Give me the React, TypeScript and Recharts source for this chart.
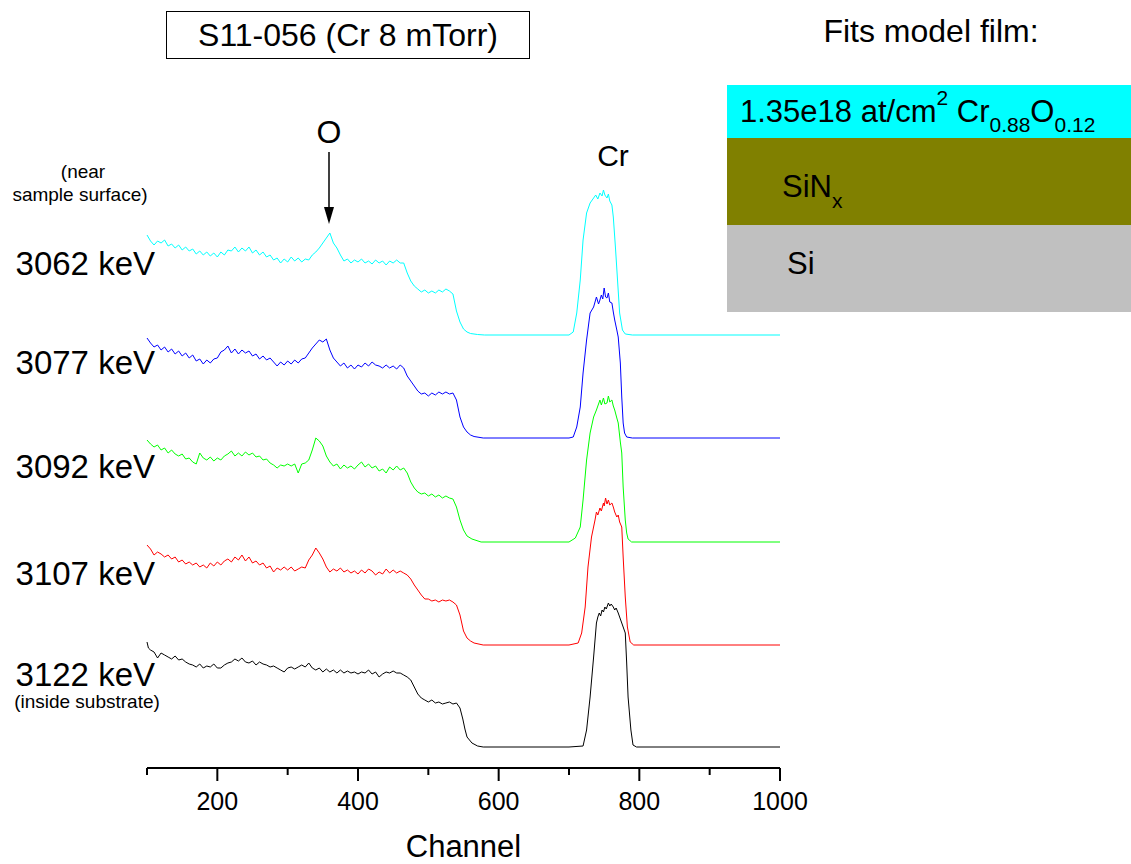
import { LineChart, Line, XAxis, YAxis } from "recharts";

// RBS spectra, counts (arbitrary units), each trace shifted by its offset
const CHANNEL_TICKS = [100, 200, 300, 400, 500, 600, 700, 800, 900, 1000];
const LABELED_TICKS = [200, 400, 600, 800, 1000];

const ENERGIES = ["3062 keV", "3077 keV", "3092 keV", "3107 keV", "3122 keV"];
const COLORS = ["#00ffff", "#0000ff", "#00ff00", "#ff0000", "#000000"];
const OFFSETS = [433, 330, 226, 123, 21];

const SPEC_3062: [number, number][] = [
  [100, 100], [105, 94], [110, 90], [115, 94], [120, 92], [125, 95], [130, 89], [135, 91], [140, 87], [145, 90],
  [150, 85], [155, 88], [160, 84], [165, 86], [170, 81], [175, 84], [180, 80], [185, 83], [190, 79], [195, 82],
  [200, 78], [205, 83], [210, 80], [215, 85], [220, 84], [225, 88], [230, 83], [235, 87], [240, 84], [245, 88],
  [250, 82], [255, 85], [260, 80], [265, 83], [270, 78], [275, 80], [280, 75], [285, 77], [290, 72], [295, 76],
  [300, 73], [305, 78], [310, 74], [315, 77], [320, 73], [325, 76], [330, 75], [335, 80], [340, 83], [345, 87],
  [350, 92], [355, 97], [360, 102], [365, 92], [370, 87], [375, 80], [380, 74], [385, 76], [390, 72], [395, 75],
  [400, 73], [405, 76], [410, 72], [415, 74], [420, 71], [425, 75], [430, 72], [435, 74], [440, 70], [445, 74],
  [450, 72], [455, 75], [460, 72], [465, 72], [470, 62], [475, 54], [480, 49], [485, 46], [490, 43], [495, 45],
  [500, 42], [505, 44], [510, 42], [515, 45], [520, 43], [525, 46], [530, 44], [535, 41], [540, 24], [545, 13],
  [550, 6], [555, 3], [560, 1.5], [570, 0.5], [580, 0], [700, 0], [706, 3], [711, 22], [716, 55], [720, 95],
  [725, 122], [730, 132], [735, 137], [738, 140], [741, 136], [744, 142], [747, 139], [749, 145], [751, 140],
  [754, 137], [756, 141], [758, 134], [761, 130], [763, 118], [766, 88], [769, 55], [772, 22], [776, 5], [780, 1],
  [790, 0], [1000, 0],
];

const SPEC_3077: [number, number][] = [
  [100, 100], [105, 95], [110, 91], [115, 93], [120, 88], [125, 91], [130, 86], [135, 89], [140, 84], [145, 87],
  [150, 82], [155, 85], [160, 80], [165, 83], [170, 77], [175, 79], [180, 74], [185, 78], [190, 75], [195, 79],
  [200, 80], [205, 86], [210, 88], [215, 92], [220, 85], [225, 89], [230, 84], [235, 88], [240, 85], [245, 87],
  [250, 82], [255, 84], [260, 79], [265, 82], [270, 78], [275, 80], [280, 76], [285, 72], [290, 76], [295, 73],
  [300, 77], [305, 74], [310, 78], [315, 75], [320, 79], [325, 80], [330, 85], [335, 90], [340, 94], [345, 98],
  [350, 96], [355, 99], [360, 88], [365, 80], [370, 76], [375, 72], [380, 75], [385, 70], [390, 73], [395, 69],
  [400, 73], [405, 71], [410, 75], [415, 72], [420, 76], [425, 73], [430, 72], [435, 70], [440, 73], [445, 70],
  [450, 72], [455, 69], [460, 73], [465, 70], [470, 62], [475, 57], [480, 52], [485, 47], [490, 44], [495, 45],
  [500, 42], [505, 45], [510, 43], [515, 46], [520, 44], [525, 46], [530, 44], [535, 45], [540, 38], [545, 21],
  [550, 11], [555, 6], [560, 3], [565, 1.5], [578, 0], [700, 0], [706, 1], [711, 11], [716, 31], [720, 65],
  [725, 98], [730, 125], [735, 131], [737, 136], [739, 141], [742, 134], [744, 138], [746, 143], [748, 139],
  [750, 150], [752, 141], [754, 140], [756, 145], [758, 136], [761, 135], [763, 126], [765, 118], [768, 108],
  [770, 101], [773, 75], [775, 41], [777, 15], [779, 5], [782, 1], [790, 0], [1000, 0],
];

const SPEC_3092: [number, number][] = [
  [100, 102], [105, 98], [110, 95], [115, 97], [120, 92], [125, 94], [130, 89], [135, 92], [140, 88], [145, 86],
  [150, 88], [155, 83], [160, 84], [165, 80], [170, 78], [175, 89], [180, 84], [185, 82], [190, 85], [195, 81],
  [200, 84], [205, 82], [210, 86], [215, 88], [220, 91], [225, 86], [230, 89], [235, 86], [240, 90], [245, 87],
  [250, 89], [255, 85], [260, 86], [265, 82], [270, 83], [275, 79], [280, 77], [285, 74], [290, 77], [295, 76],
  [300, 78], [305, 76], [310, 78], [315, 69], [320, 78], [325, 79], [330, 82], [335, 92], [340, 104], [345, 101],
  [350, 96], [355, 86], [360, 80], [365, 76], [370, 78], [375, 73], [380, 77], [385, 74], [390, 76], [395, 73],
  [400, 77], [405, 80], [410, 75], [415, 78], [420, 74], [425, 76], [430, 71], [435, 73], [440, 69], [445, 75],
  [450, 72], [455, 76], [460, 72], [465, 74], [470, 69], [475, 60], [480, 54], [485, 50], [490, 48], [495, 49],
  [500, 46], [505, 48], [510, 45], [515, 47], [520, 44], [525, 46], [530, 44], [535, 43], [540, 35], [545, 22],
  [550, 12], [555, 6], [562, 3], [575, 0], [700, 0], [709, 4], [716, 15], [720, 42], [725, 82], [730, 109],
  [735, 125], [739, 132], [742, 138], [744, 142], [746, 137], [749, 144], [751, 138], [754, 139], [756, 146],
  [758, 140], [761, 142], [763, 136], [765, 132], [768, 124], [770, 119], [773, 100], [775, 89], [777, 55],
  [780, 22], [782, 9], [784, 3], [789, 0], [1000, 0],
];

const SPEC_3107: [number, number][] = [
  [100, 100], [105, 96], [110, 90], [115, 93], [120, 91], [125, 88], [130, 90], [135, 86], [140, 88], [145, 83],
  [150, 85], [155, 81], [160, 83], [165, 80], [170, 82], [175, 78], [180, 80], [185, 77], [190, 82], [195, 79],
  [200, 83], [205, 80], [210, 84], [215, 86], [220, 83], [225, 88], [230, 85], [235, 90], [240, 84], [245, 88],
  [250, 82], [255, 84], [260, 80], [265, 82], [270, 77], [275, 79], [280, 73], [285, 77], [290, 75], [295, 78],
  [300, 75], [305, 78], [310, 74], [315, 76], [320, 78], [325, 77], [330, 85], [335, 90], [340, 97], [345, 92],
  [350, 86], [355, 78], [360, 73], [365, 76], [370, 74], [375, 77], [380, 73], [385, 75], [390, 72], [395, 74],
  [400, 71], [405, 75], [410, 72], [415, 76], [420, 74], [425, 70], [430, 73], [435, 71], [440, 76], [445, 72],
  [450, 75], [455, 72], [460, 74], [465, 72], [470, 70], [475, 66], [480, 60], [485, 55], [490, 50], [495, 46],
  [500, 46], [505, 44], [510, 45], [515, 43], [520, 45], [525, 44], [530, 45], [535, 43], [540, 40], [545, 30],
  [550, 14], [555, 7], [560, 4], [565, 2], [578, 0], [700, 0], [713, 2], [718, 12], [723, 38], [727, 78],
  [732, 108], [737, 125], [739, 133], [741, 130], [744, 137], [746, 134], [749, 142], [750, 139], [752, 147],
  [754, 141], [756, 145], [758, 140], [761, 142], [763, 138], [765, 133], [768, 128], [770, 130], [772, 123],
  [775, 118], [777, 88], [780, 48], [783, 18], [787, 3], [792, 0], [1000, 0],
];

const SPEC_3122: [number, number][] = [
  [100, 105], [102, 99], [105, 97], [110, 95], [115, 89], [120, 94], [125, 92], [130, 90], [135, 88], [140, 91],
  [145, 87], [150, 88], [155, 85], [160, 83], [165, 82], [170, 80], [175, 83], [180, 79], [185, 81], [190, 80],
  [195, 83], [200, 79], [205, 79], [210, 82], [215, 84], [220, 85], [225, 88], [230, 86], [235, 89], [240, 85],
  [245, 84], [250, 86], [255, 82], [260, 85], [265, 83], [270, 82], [275, 80], [280, 81], [285, 79], [290, 77],
  [295, 75], [300, 79], [305, 80], [310, 78], [315, 80], [320, 82], [325, 80], [330, 84], [335, 79], [340, 77],
  [345, 79], [350, 75], [355, 78], [360, 75], [365, 77], [370, 74], [375, 77], [380, 74], [385, 76], [390, 74],
  [395, 75], [400, 73], [405, 75], [410, 74], [415, 77], [420, 73], [425, 75], [430, 70], [435, 73], [440, 75],
  [445, 74], [450, 76], [455, 74], [460, 74], [465, 72], [470, 70], [475, 67], [480, 60], [485, 53], [490, 49],
  [495, 47], [500, 45], [505, 47], [510, 44], [515, 45], [520, 43], [525, 44], [530, 45], [535, 43], [540, 44],
  [545, 39], [549, 28], [552, 18], [555, 10], [562, 4], [570, 1], [578, 0], [700, 0], [720, 1], [725, 17],
  [730, 50], [735, 90], [739, 124], [741, 130], [743, 134], [745, 131], [747, 137], [749, 135], [751, 140],
  [753, 138], [756, 144], [758, 141], [760, 143], [763, 140], [765, 137], [767, 139], [770, 134], [772, 130],
  [775, 124], [777, 120], [780, 114], [782, 84], [784, 50], [788, 17], [791, 2], [796, 0], [1000, 0],
];

const SPECTRA = [SPEC_3062, SPEC_3077, SPEC_3092, SPEC_3107, SPEC_3122];

const FONT = '"Liberation Sans", Arial, Helvetica, sans-serif';

function ChannelTick({ x, y, payload }: any) {
  const major = LABELED_TICKS.includes(payload.value);
  return (
    <g>
      <line x1={x} x2={x} y1={y} y2={y + (major ? 13 : 7)} stroke="#000" strokeWidth={2} />
      {major && (
        <text x={x} y={y + 42} textAnchor="middle" fontSize={25} fontFamily={FONT} fill="#000">
          {payload.value}
        </text>
      )}
    </g>
  );
}

// label baselines on the left, one per trace
const LABEL_Y = [275, 374, 478, 585, 686];

function Overlay() {
  return (
    <svg
      width={1131}
      height={864}
      style={{ position: "absolute", left: 0, top: 0, pointerEvents: "none" }}
      fontFamily={FONT}
    >
      <rect x={166.5} y={11.5} width={363} height={47} fill="none" stroke="#000" strokeWidth={1} />
      <text x={348} y={46} textAnchor="middle" fontSize={32}>S11-056 (Cr 8 mTorr)</text>

      <text x={329} y={143} textAnchor="middle" fontSize={32}>O</text>
      <line x1={329} x2={329} y1={152} y2={210} stroke="#000" strokeWidth={1.5} />
      <polygon points="324,207 334,207 329,224" fill="#000" />
      <text x={613} y={166} textAnchor="middle" fontSize={30}>Cr</text>

      <text x={83} y={178} textAnchor="middle" fontSize={19}>(near</text>
      <text x={80} y={201} textAnchor="middle" fontSize={19}>sample surface)</text>
      {ENERGIES.map((e, i) => (
        <text key={e} x={155} y={LABEL_Y[i]} textAnchor="end" fontSize={33}>{e}</text>
      ))}
      <text x={87} y={708} textAnchor="middle" fontSize={19}>(inside substrate)</text>

      <text x={463.5} y={857} textAnchor="middle" fontSize={31}>Channel</text>

      <text x={931} y={42} textAnchor="middle" fontSize={32}>Fits model film:</text>
      <rect x={727} y={85} width={404} height={53} fill="#00ffff" />
      <rect x={727} y={138} width={404} height={87} fill="#808000" />
      <rect x={727} y={225} width={404} height={87} fill="#c0c0c0" />
      <text x={740} y={122} fontSize={31}>
        1.35e18 at/cm
        <tspan fontSize={21} y={105}>2</tspan>
        <tspan y={122}> Cr</tspan>
        <tspan fontSize={21} y={132}>0.88</tspan>
        <tspan y={122}>O</tspan>
        <tspan fontSize={21} y={132}>0.12</tspan>
      </text>
      <text x={782} y={197} fontSize={31}>
        SiN
        <tspan fontSize={21} y={208}>x</tspan>
      </text>
      <text x={787} y={274} fontSize={31}>Si</text>
    </svg>
  );
}

export default function App() {
  return (
    <div style={{ position: "absolute", left: 0, top: 0, width: 1131, height: 864, background: "#fff" }}>
      <LineChart width={1131} height={864} margin={{ top: 68, right: 351, bottom: 36, left: 147 }}>
        <XAxis
          dataKey="ch"
          type="number"
          domain={[100, 1000]}
          ticks={CHANNEL_TICKS}
          interval={0}
          height={60}
          tickSize={0}
          tickMargin={0}
          tickLine={false}
          axisLine={{ stroke: "#000", strokeWidth: 2 }}
          tick={<ChannelTick />}
        />
        <YAxis type="number" domain={[0, 700]} hide />
        {SPECTRA.map((spec, i) => (
          <Line
            key={ENERGIES[i]}
            data={spec.map(([ch, counts]) => ({ ch, v: counts + OFFSETS[i] }))}
            dataKey="v"
            type="linear"
            stroke={COLORS[i]}
            strokeWidth={1}
            dot={false}
            isAnimationActive={false}
          />
        ))}
      </LineChart>
      <Overlay />
    </div>
  );
}
